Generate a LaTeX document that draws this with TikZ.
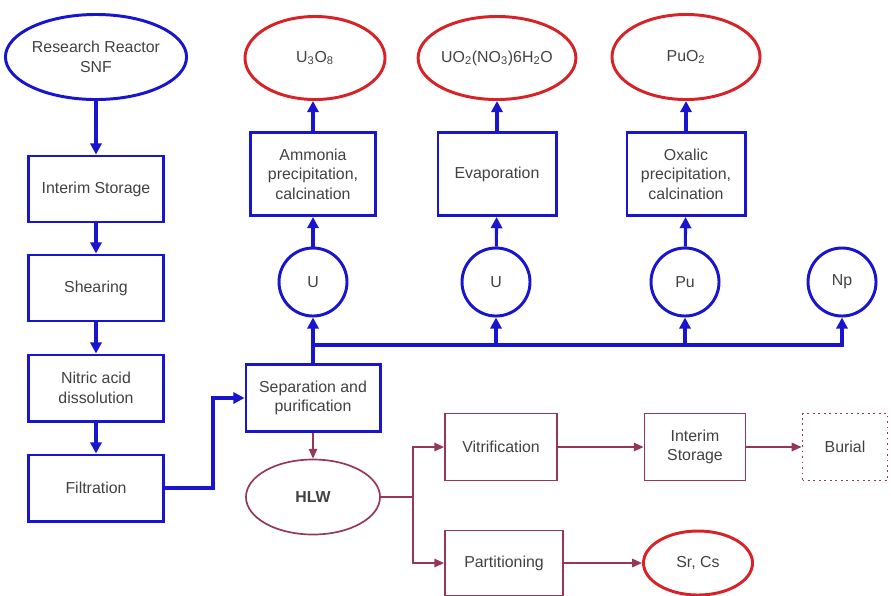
\documentclass[tikz,border=0pt]{standalone}
\usepackage{fontspec}
\setmainfont{Liberation Sans}
\usepackage{tikz}
\usetikzlibrary{shapes.geometric, positioning, arrows.meta}
\definecolor{flowblue}{RGB}{25,20,205}
\definecolor{prodred}{RGB}{215,35,40}
\definecolor{wastered}{RGB}{150,55,90}
\definecolor{txtgray}{RGB}{65,65,65}

\begin{document}
\begin{tikzpicture}[x=0.025cm,y=-0.025cm,font=\fontsize{11.3}{14}\selectfont,
    every node/.style={text=txtgray,align=center,inner sep=0pt},
    bbox/.style={draw=flowblue,line width=2.1pt,minimum height=1.65cm},
    bell/.style={ellipse,draw=flowblue,line width=2.1pt},
    rell/.style={ellipse,draw=prodred,line width=2.1pt},
    bcirc/.style={circle,draw=flowblue,line width=2.1pt,minimum size=1.7cm},
    wbox/.style={draw=wastered,line width=1.2pt,minimum height=1.675cm},
    barrow/.style={draw=flowblue,line width=2.2pt,-{Triangle[length=8pt,width=8pt]}},
    warrow/.style={draw=wastered,line width=1.2pt,-{Triangle[length=7pt,width=6pt]}}]
  \useasboundingbox (0,0) rectangle (891,595);
  % left column
  \node[bell,minimum width=4.275cm,minimum height=2.125cm] (snf) at (96,57) {Research Reactor\\SNF};
  \node[bbox,minimum width=3.375cm] (store) at (96,189) {Interim Storage};
  \node[bbox,minimum width=3.375cm] (shear) at (96,288) {Shearing};
  \node[bbox,minimum width=3.375cm] (dissol) at (96,388) {Nitric acid\\dissolution};
  \node[bbox,minimum width=3.375cm] (filt) at (96,488) {Filtration};
  \node[bbox,minimum width=3.35cm,minimum height=1.675cm] (sep) at (313,398) {Separation and\\purification};
  % products
  \node[bcirc] (u1) at (313,282) {U};
  \node[bcirc] (u2) at (496,282) {U};
  \node[bcirc] (pu) at (685,282) {Pu};
  \node[bcirc] (np) at (842,282) {Np};
  \node[bbox,minimum width=3.125cm,minimum height=2.075cm] (amm) at (313,174) {Ammonia\\precipitation,\\calcination};
  \node[bbox,minimum width=2.95cm,minimum height=2.075cm] (evap) at (497,174) {Evaporation};
  \node[bbox,minimum width=2.95cm,minimum height=2.075cm] (oxal) at (686,174) {Oxalic\\precipitation,\\calcination};
  \node[rell,minimum width=3.5cm,minimum height=2.075cm] (u3o8) at (315,58) {U\textsubscript{3}O\textsubscript{8}};
  \node[rell,minimum width=3.7cm,minimum height=2.075cm] (uo2) at (497,58) {UO\textsubscript{2}(NO\textsubscript{3})6H\textsubscript{2}O};
  \node[rell,minimum width=3.7cm,minimum height=2.125cm] (puo2) at (686,57) {PuO\textsubscript{2}};
  % waste
  \node[ellipse,draw=wastered,line width=1.2pt,minimum width=3.35cm,minimum height=1.875cm,font=\fontsize{11.3}{14}\selectfont\bfseries] (hlw) at (313,497) {HLW};
  \node[wbox,minimum width=2.8cm] (vit) at (501,447) {Vitrification};
  \node[wbox,minimum width=2.525cm] (store2) at (695,447) {Interim\\Storage};
  \node[wbox,minimum width=2.125cm,line width=1.3pt,dash pattern=on 1.3pt off 2.6pt] (burial) at (845,447) {Burial};
  \node[wbox,minimum width=2.95cm,minimum height=1.625cm] (part) at (504,563) {Partitioning};
  \node[rell,minimum width=2.725cm,minimum height=1.6cm] (srcs) at (698,563) {Sr, Cs};

  \path[barrow] (snf) -- (store);
  \path[barrow] (store) -- (shear);
  \path[barrow] (shear) -- (dissol);
  \path[barrow] (dissol) -- (filt);
  \path[barrow] (filt.east) -- ++(48,0) |- (sep.west);
  \path[barrow] (sep) -- (u1);
  \coordinate (bus) at (313,345);
  \path[barrow] (bus) -| (np.south);
  \path[barrow] (bus -| u2) -- (u2.south);
  \path[barrow] (bus -| pu) -- (pu.south);
  \path[barrow] (u1) -- (amm);
  \path[barrow] (u2) -- (evap);
  \path[barrow] (pu) -- (oxal);
  \path[barrow] (amm.north) -- (amm.north |- u3o8.south);
  \path[barrow] (evap) -- (uo2);
  \path[barrow] (oxal) -- (puo2);

  \path[warrow] (sep) -- (hlw);
  \draw[wastered,line width=1.2pt] (hlw.east) -- ++(32,0) coordinate (split);
  \path[warrow] (split) |- (vit.west);
  \path[warrow] (split) |- (part.west);
  \path[warrow] (vit) -- (store2);
  \path[warrow] (store2) -- (burial);
  \path[warrow] (part) -- (srcs);
\end{tikzpicture}
\end{document}
